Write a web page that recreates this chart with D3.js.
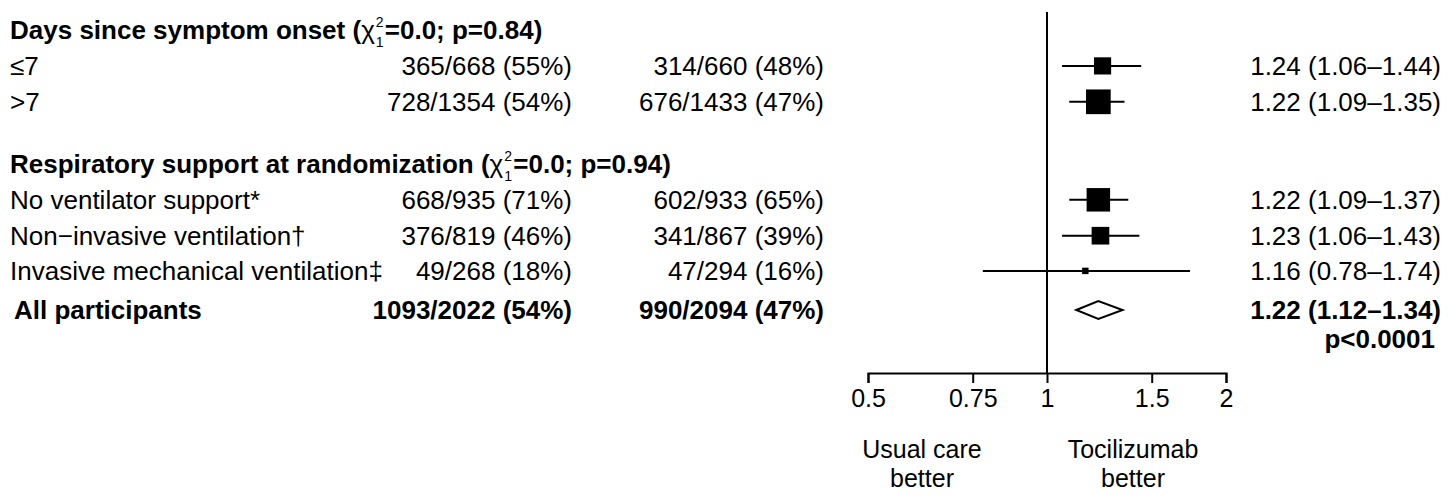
<!DOCTYPE html>
<html>
<head>
<meta charset="utf-8">
<script src="https://cdn.jsdelivr.net/npm/d3@7"></script>
<style>
  html, body { margin: 0; padding: 0; background: #fff; }
  svg { display: block; font-family: "Liberation Sans", Arial, Helvetica, sans-serif; }
</style>
</head>
<body>
<svg id="chart" width="1454" height="504"></svg>
<script>
// ---------------- DATA ----------------
const groupTitles = ["Days since symptom onset", "Respiratory support at randomization"];
const groupChi = ["0.0", "0.0"];
const groupP = ["0.84", "0.94"];

const subgroupLabels = ["≤7", ">7", "No ventilator support*", "Non\u2212invasive ventilation\u2020", "Invasive mechanical ventilation\u2021"];
const subgroupGroup = [0, 0, 1, 1, 1];
const tociEvents = [365, 728, 668, 376, 49];
const tociTotal = [668, 1354, 935, 819, 268];
const tociPct = [55, 54, 71, 46, 18];
const usualEvents = [314, 676, 602, 341, 47];
const usualTotal = [660, 1433, 933, 867, 294];
const usualPct = [48, 47, 65, 39, 16];
const rr = [1.24, 1.22, 1.22, 1.23, 1.16];
const rrLow = [1.06, 1.09, 1.09, 1.06, 0.78];
const rrHigh = [1.44, 1.35, 1.37, 1.43, 1.74];

const overallLabel = "All participants";
const overallToci = [1093, 2022, 54];
const overallUsual = [990, 2094, 47];
const overallRR = [1.22, 1.12, 1.34];
const overallP = "p<0.0001";

const axisTicks = [0.5, 0.75, 1, 1.5, 2];
const axisDomain = [0.5, 2];
const favourLeft = ["Usual care", "better"];
const favourRight = ["Tocilizumab", "better"];

// ---------------- LAYOUT ----------------
const svg = d3.select("#chart");
const FS = 26;
const x = d3.scaleLog().domain(axisDomain).range([868, 1226]);
const y = d3.scaleLinear().domain([0, 1]).range([30, 65.9]);  // row slot -> centre y
const headerSlots = [0, 3.73];
const rowSlots = [1, 2, 4.73, 5.73, 6.71];
const overallSlot = 7.8;
const pSlot = 8.6;
const colLabelX = 10, col1X = 572, col2X = 824, colEstX = 1441;
const axisY = 373;
const events = subgroupLabels.map((d, i) => tociEvents[i] + usualEvents[i]);
const size = d3.scaleSqrt().domain([0, d3.max(events)]).range([0, 24.7]);
const fmt2 = d3.format(".2f");
const dash = "\u2013";

// group headers with chi-square (sup/sub drawn as separate small texts)
headerSlots.forEach((s, g) => {
  const cy = y(s);
  const main = svg.append("text")
    .attr("x", colLabelX).attr("y", cy).attr("dy", "0.35em")
    .attr("font-size", FS).attr("font-weight", "bold");
  main.append("tspan").text(groupTitles[g] + " (");
  main.append("tspan").attr("font-weight", "normal").text("\u03C7");
  const endX = colLabelX + main.node().getComputedTextLength();
  svg.append("text").attr("x", endX + 1).attr("y", cy - 3)
    .attr("font-size", 14).text("2");
  svg.append("text").attr("x", endX + 1).attr("y", cy + 17)
    .attr("font-size", 14).text("1");
  svg.append("text").attr("x", endX + 10).attr("y", cy).attr("dy", "0.35em")
    .attr("font-size", FS).attr("font-weight", "bold")
    .text("=" + groupChi[g] + "; p=" + groupP[g] + ")");
});

// subgroup rows (text)
const rows = svg.append("g").selectAll("g").data(subgroupLabels).join("g");
rows.append("text").attr("x", colLabelX).attr("y", (d, i) => y(rowSlots[i])).attr("dy", "0.35em")
  .attr("font-size", FS).text(d => d);
rows.append("text").attr("x", col1X).attr("y", (d, i) => y(rowSlots[i])).attr("dy", "0.35em")
  .attr("font-size", FS).attr("text-anchor", "end")
  .text((d, i) => `${tociEvents[i]}/${tociTotal[i]} (${tociPct[i]}%)`);
rows.append("text").attr("x", col2X).attr("y", (d, i) => y(rowSlots[i])).attr("dy", "0.35em")
  .attr("font-size", FS).attr("text-anchor", "end")
  .text((d, i) => `${usualEvents[i]}/${usualTotal[i]} (${usualPct[i]}%)`);
rows.append("text").attr("x", colEstX).attr("y", (d, i) => y(rowSlots[i])).attr("dy", "0.35em")
  .attr("font-size", FS).attr("text-anchor", "end")
  .text((d, i) => `${fmt2(rr[i])} (${fmt2(rrLow[i])}${dash}${fmt2(rrHigh[i])})`);

// overall row text
const oy = y(overallSlot);
svg.append("text").attr("x", colLabelX + 4).attr("y", oy).attr("dy", "0.35em")
  .attr("font-size", FS).attr("font-weight", "bold").text(overallLabel);
svg.append("text").attr("x", col1X).attr("y", oy).attr("dy", "0.35em")
  .attr("font-size", FS).attr("font-weight", "bold").attr("text-anchor", "end")
  .text(`${overallToci[0]}/${overallToci[1]} (${overallToci[2]}%)`);
svg.append("text").attr("x", col2X).attr("y", oy).attr("dy", "0.35em")
  .attr("font-size", FS).attr("font-weight", "bold").attr("text-anchor", "end")
  .text(`${overallUsual[0]}/${overallUsual[1]} (${overallUsual[2]}%)`);
svg.append("text").attr("x", colEstX).attr("y", oy).attr("dy", "0.35em")
  .attr("font-size", FS).attr("font-weight", "bold").attr("text-anchor", "end")
  .text(`${fmt2(overallRR[0])} (${fmt2(overallRR[1])}${dash}${fmt2(overallRR[2])})`);
svg.append("text").attr("x", colEstX - 6).attr("y", y(pSlot)).attr("dy", "0.35em")
  .attr("font-size", FS).attr("font-weight", "bold").attr("text-anchor", "end")
  .text(overallP);

// reference line at 1
svg.append("line").attr("x1", x(1)).attr("x2", x(1)).attr("y1", 12).attr("y2", axisY)
  .attr("stroke", "#000").attr("stroke-width", 2);

// CI lines and squares
const marks = svg.append("g");
marks.selectAll("line.ci").data(rr).join("line").attr("class", "ci")
  .attr("x1", (d, i) => x(rrLow[i])).attr("x2", (d, i) => x(rrHigh[i]))
  .attr("y1", (d, i) => y(rowSlots[i])).attr("y2", (d, i) => y(rowSlots[i]))
  .attr("stroke", "#000").attr("stroke-width", 2);
marks.selectAll("rect").data(rr).join("rect")
  .attr("x", (d, i) => x(d) - size(events[i]) / 2)
  .attr("y", (d, i) => y(rowSlots[i]) - size(events[i]) / 2)
  .attr("width", (d, i) => size(events[i]))
  .attr("height", (d, i) => size(events[i]))
  .attr("fill", "#000");

// overall diamond
const dh = 9;
svg.append("path")
  .attr("d", `M${x(overallRR[1])},${oy} L${x(overallRR[0])},${oy - dh} L${x(overallRR[2])},${oy} L${x(overallRR[0])},${oy + dh} Z`)
  .attr("fill", "#fff").attr("stroke", "#000").attr("stroke-width", 2);

// axis
const axis = d3.axisBottom(x).tickValues(axisTicks).tickFormat(d3.format("")).tickSizeOuter(0).tickSize(10).tickPadding(6);
const ag = svg.append("g").attr("transform", `translate(0,${axisY})`).call(axis);
ag.select(".domain").attr("stroke", "#000").attr("stroke-width", 2);
ag.selectAll(".tick line").attr("stroke", "#000").attr("stroke-width", 2);
ag.selectAll(".tick text").attr("font-size", 25).attr("font-family", "Liberation Sans, Arial, sans-serif").attr("fill", "#000");

// favour labels
const favX = [922, 1133];
[favourLeft, favourRight].forEach((lines, k) => {
  lines.forEach((s, j) => {
    svg.append("text").attr("x", favX[k]).attr("y", 458 + j * 29)
      .attr("font-size", 25).attr("text-anchor", "middle").text(s);
  });
});
</script>
</body>
</html>
